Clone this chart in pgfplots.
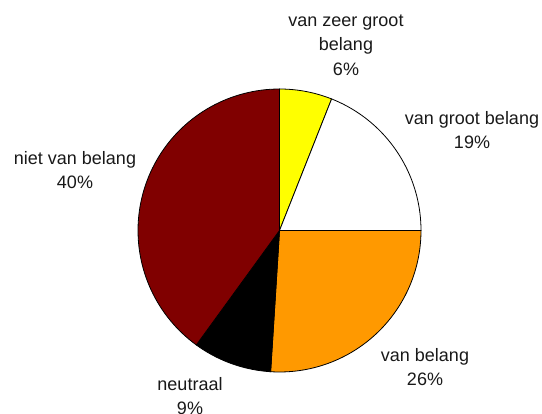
\documentclass[border=0pt]{standalone}
\usepackage{fontspec}
\setmainfont{Liberation Sans}
\usepackage{pgfplots}
\pgfplotsset{compat=1.18}
\definecolor{cyellow}{RGB}{255,255,0}
\definecolor{cwhite}{RGB}{255,255,255}
\definecolor{corange}{RGB}{255,153,0}
\definecolor{cblack}{RGB}{0,0,0}
\definecolor{cred}{RGB}{128,0,0}
% cumulative start and end percentages of each slice (clockwise from 12 o'clock)
% van zeer groot belang 6, van groot belang 19, van belang 26, neutraal 9, niet van belang 40
\newcommand{\slice}[3]{%
  \addplot[draw=black, line width=0.8pt, fill=#3, domain={90-3.6*#2}:{90-3.6*#1}, samples=80, variable=\t]
    ({279.5+141.5*cos(\t)}, {183.5+141.5*sin(\t)}) -- (axis cs:279.5,183.5) -- cycle;
}
\begin{document}
\begin{tikzpicture}
\begin{axis}[
  name=ax,
  width=542bp, height=414bp, scale only axis,
  xmin=0, xmax=542, ymin=0, ymax=414,
  hide axis, clip=false,
]
\slice{0}{6}{cyellow}
\slice{6}{25}{cwhite}
\slice{25}{51}{corange}
\slice{51}{60}{cblack}
\slice{60}{100}{cred}
\begin{scope}[every node/.style={align=center, inner sep=0pt, font=\fontsize{18bp}{24.5bp}\selectfont, text=black!90}]
\node at (axis cs:346,369) {van zeer groot\\belang\\6\%};
\node at (axis cs:472,284) {van groot belang\\19\%};
\node at (axis cs:75,244) {niet van belang\\40\%};
\node at (axis cs:425,47) {van belang\\26\%};
\node at (axis cs:190,18) {neutraal\\9\%};
\end{scope}
\end{axis}
\pgfresetboundingbox
\path[use as bounding box] (ax.south west) rectangle (ax.north east);
\end{tikzpicture}
\end{document}
